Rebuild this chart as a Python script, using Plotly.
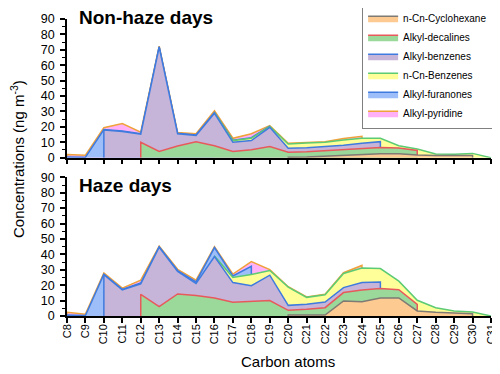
import plotly.graph_objects as go
from plotly.subplots import make_subplots

# ______________________________________________________________________________
# DATA  (ng m-3; None = not detected)
# ______________________________________________________________________________

carbons = ['C8', 'C9', 'C10', 'C11', 'C12', 'C13', 'C14', 'C15', 'C16', 'C17', 'C18', 'C19',
           'C20', 'C21', 'C22', 'C23', 'C24', 'C25', 'C26', 'C27', 'C28', 'C29', 'C30', 'C31']

names = ['n-Cn-Cyclohexane', 'Alkyl-decalines', 'Alkyl-benzenes',
         'n-Cn-Benzenes', 'Alkyl-furanones', 'Alkyl-pyridine']

# non-haze days
nonhaze_cyclohexane = [None, None, None, None, None, None, None, None, None, None, None, None,
                       0.3, 0.5, 1.0, 1.5, 2.0, 2.6, 2.6, 1.7, 1.5, 1.6, 1.4, None]
nonhaze_decalines = [None, None, None, None, 10.0, 4.0, 7.6, 10.3, 7.7, 4.0, 5.2, 7.2,
                     3.2, 3.4, 3.6, 3.7, 3.6, 4.0, 3.7, 3.0, None, None, None, None]
nonhaze_benzenes = [None, None, 18.0, 17.0, 5.2, 67.8, 7.9, 4.2, 21.1, 6.0, 5.9, 12.5,
                    2.6, 2.6, 2.6, 2.8, 3.7, 3.8, None, None, None, None, None, None]
nonhaze_ncnbenzenes = [None, None, None, None, None, None, None, None, 0.3, 1.1, 1.5, 0.5,
                       2.8, 3.0, 2.8, 3.5, 3.3, 2.2, 1.5, 0.9, 0.9, 0.6, 1.4, 0.0]
nonhaze_furanones = [0.5, 0.3, 0.3, 0.4, 0.3, 0.2, 0.3, 0.3, 0.3, 0.3, 0.4, 0.2,
                     None, None, None, None, None, None, None, None, None, None, None, None]
nonhaze_pyridine = [1.5, 1.3, 1.2, 4.7, 1.0, 0.3, 0.6, 0.8, 1.0, 1.2, 2.5, 0.4,
                    0.4, 0.3, 0.3, 0.9, 1.3, None, None, None, None, None, None, None]

# haze days
haze_cyclohexane = [None, None, None, None, None, None, None, None, None, None, None, None,
                    0.6, 0.6, 0.6, 9.8, 9.3, 11.7, 11.7, 3.3, 2.4, 2.0, 1.5, None]
haze_decalines = [None, None, None, None, 14.1, 6.1, 14.3, 13.3, 11.7, 8.9, 9.5, 10.0,
                  3.1, 3.7, 4.8, 5.4, 7.6, 6.1, 5.4, 4.3, None, None, None, None]
haze_benzenes = [None, None, 26.8, 17.0, 6.8, 38.5, 14.6, 7.8, 26.8, 12.8, 10.2, 16.5,
                 3.2, 3.3, 3.7, 3.2, 4.8, 4.3, None, None, None, None, None, None]
haze_ncnbenzenes = [None, None, None, None, None, None, None, None, 0.4, 3.3, 7.2, 3.0,
                    11.8, 4.5, 4.7, 9.2, 9.5, 8.7, 5.5, 2.6, 3.0, 1.3, 1.1, 0.0]
haze_furanones = [0.6, 0.3, 0.3, 0.3, 0.5, 0.3, 0.6, 1.0, 5.5, 1.0, 5.4, None,
                  None, None, None, None, None, None, None, None, None, None, None, None]
haze_pyridine = [1.8, 0.9, 0.9, 0.8, 1.9, 0.5, 0.8, 1.2, 0.5, 1.2, 3.0, 0.6,
                 0.3, 0.3, 0.3, 0.5, 1.6, None, None, None, None, None, None, None]

fill_colors = ['#FDCB92', '#9AD99A', '#C6B5D9', '#FFFF99', '#9DBEF8', '#FFB0F6']
line_colors = ['#7F7A74', '#E8595C', '#3F7BDF', '#5CCB74', '#3F7BDF', '#EFA23A']

# ______________________________________________________________________________
# FIGURE
# ______________________________________________________________________________

fig = make_subplots(rows=2, cols=1, shared_xaxes=True)


def add_stack(series, row, showlegend):
    # stacked like Origin: a series only spans the carbons where it was found,
    # with vertical edges at its ends; upper layers drawn first, filled to zero
    below = [0.0] * len(carbons)
    layers = []
    for name, vals, fc, lc in zip(names, series, fill_colors, line_colors):
        top = [below[i] + (v or 0) for i, v in enumerate(vals)]
        idx = [i for i, v in enumerate(vals) if v is not None]
        first, last = idx[0], idx[-1]
        xs = [carbons[first]] + carbons[first:last + 1] + [carbons[last]]
        ys = [below[first]] + top[first:last + 1] + [below[last]]
        layers.append((name, xs, ys, fc, lc))
        below = top
    for name, xs, ys, fc, lc in reversed(layers):
        fig.add_trace(go.Scatter(x=xs, y=ys, name=name, mode='lines', fill='tozeroy',
                                 fillcolor=fc, line=dict(color=lc, width=1.5),
                                 showlegend=showlegend),
                      row=row, col=1)


add_stack([nonhaze_cyclohexane, nonhaze_decalines, nonhaze_benzenes,
           nonhaze_ncnbenzenes, nonhaze_furanones, nonhaze_pyridine], 1, True)
add_stack([haze_cyclohexane, haze_decalines, haze_benzenes,
           haze_ncnbenzenes, haze_furanones, haze_pyridine], 2, False)

axis_style = dict(showline=True, linecolor='black', linewidth=1.5, ticks='outside',
                  tickwidth=1.5, ticklen=5, tickcolor='black', showgrid=False,
                  zeroline=False, mirror=False, automargin=False)

fig.update_xaxes(type='category', categoryorder='array', categoryarray=carbons,
                 range=[0, 23], tickangle=-90, tickfont=dict(size=11, color='black'),
                 ticklabeloverflow='allow', ticklabelstandoff=-3, **axis_style)
fig.update_xaxes(showticklabels=False, row=1, col=1)
fig.update_yaxes(range=[0, 90], dtick=10, tickfont=dict(size=12.5, color='black'),
                 ticklabelstandoff=3,
                 minor=dict(ticks='outside', ticklen=3, dtick=5, tickcolor='black', tickwidth=1),
                 **axis_style)

# the page body adds an 8 px offset, so the margins are shifted to compensate
fig.update_layout(
    width=500, height=374,
    margin=dict(l=59, r=17, t=11, b=66, autoexpand=False),
    plot_bgcolor='white', paper_bgcolor='white',
    font=dict(family='Liberation Sans, Arial, sans-serif', color='black'),
    xaxis=dict(domain=[0, 1]), xaxis2=dict(domain=[0, 1]),
    yaxis=dict(domain=[0.533, 1]), yaxis2=dict(domain=[0, 0.467]),
    legend=dict(x=1.005, y=1.055, xanchor='right', yanchor='top', traceorder='reversed',
                bgcolor='white', bordercolor='#808080', borderwidth=1,
                font=dict(size=10), itemwidth=30, tracegroupgap=0),
    annotations=[
        dict(text='<b>Non-haze days</b>', xref='x domain', yref='y domain', x=0.024, y=1.01,
             xanchor='left', yanchor='middle', showarrow=False, font=dict(size=19)),
        dict(text='<b>Haze days</b>', xref='x2 domain', yref='y2 domain', x=0.024, y=0.94,
             xanchor='left', yanchor='middle', showarrow=False, font=dict(size=19)),
        dict(text='Concentrations (ng m<sup>-3</sup>)', xref='paper', yref='paper',
             x=-0.117, y=0.53, textangle=-90, showarrow=False, font=dict(size=15),
             xanchor='center', yanchor='middle'),
        dict(text='Carbon atoms', xref='paper', yref='paper', x=0.522, y=-0.152,
             showarrow=False, font=dict(size=15), xanchor='center', yanchor='middle'),
    ],
)

fig.write_html('out.html')
